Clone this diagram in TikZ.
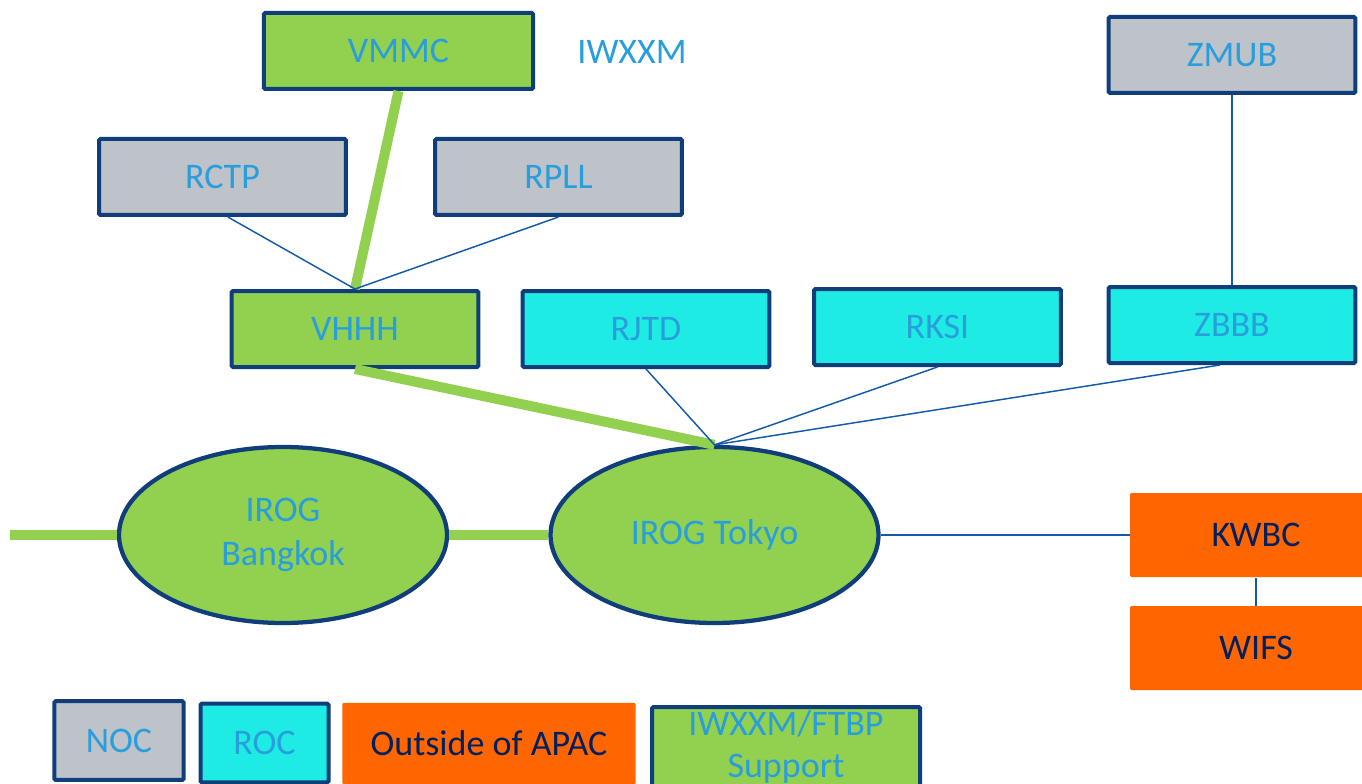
\documentclass[tikz,border=0pt]{standalone}
\usepackage{fontspec}
\setmainfont{Carlito}
\usetikzlibrary{shapes.geometric}

\definecolor{wxgreen}{RGB}{146,208,80}
\definecolor{wxedge}{RGB}{16,62,122}
\definecolor{wxlabel}{RGB}{41,158,220}
\definecolor{wxcyan}{RGB}{30,236,228}
\definecolor{wxgray}{RGB}{189,195,201}
\definecolor{wxorange}{RGB}{255,102,0}
\definecolor{wxdark}{RGB}{0,32,96}
\definecolor{wxline}{RGB}{20,90,170}

\tikzset{every picture/.style={line width=0.75pt}}
\tikzset{
    wxbox/.style={draw=wxedge, line width=3pt, rounded corners=1pt, minimum width=185pt, minimum height=57pt, inner sep=0pt, text=wxlabel, font=\fontsize{27}{32}\selectfont},
    greenbox/.style={wxbox, fill=wxgreen},
    cyanbox/.style={wxbox, fill=wxcyan},
    graybox/.style={wxbox, fill=wxgray},
    outbox/.style={fill=wxorange, rounded corners=1pt, minimum width=189pt, minimum height=63pt, inner sep=0pt, text=wxdark, font=\fontsize{27}{32}\selectfont},
    irog/.style={ellipse, draw=wxedge, line width=3.2pt, fill=wxgreen, minimum width=246pt, minimum height=132pt, inner sep=0pt, align=center, text=wxlabel, font=\fontsize{27}{32}\selectfont},
    thinlink/.style={draw=wxline, line width=1.1pt},
    greenlink/.style={draw=wxgreen, line width=7.5pt}
}

\begin{document}
\begin{tikzpicture}[x=0.75pt,y=0.75pt,yscale=-1,xscale=1]
        \path[use as bounding box] (0,0) rectangle (1362,784);

        %Shape: Rectangle
        \node [greenbox, minimum width=202pt] (vmmc) at (398.5,51) {VMMC};
        \node [graybox] (rctp) at (222.5,177) {RCTP};
        \node [graybox] (rpll) at (558.5,177) {RPLL};
        \node [graybox] (zmub) at (1232,55) {ZMUB};
        \node [greenbox] (vhhh) at (355,329) {VHHH};
        \node [cyanbox] (rjtd) at (646,329) {RJTD};
        \node [cyanbox] (rksi) at (937.5,327) {RKSI};
        \node [cyanbox] (zbbb) at (1232,325) {ZBBB};
        \node [outbox] (kwbc) at (1256,535) {KWBC};
        \node [outbox] (wifs) at (1256,648) {WIFS};

        %Shape: Ellipse
        \node [irog] (bangkok) at (283,535) {IROG\\[1pt]Bangkok};
        \node [irog] (tokyo) at (714.5,535) {\raisebox{-3pt}{IROG Tokyo}};

        % Text Node
        \node [text=wxlabel, font=\fontsize{27}{32}\selectfont] (iwxxm) at (632,52) {IWXXM};
        \coordinate (west) at (10,535);

        %Straight Lines
        \draw [greenlink] (vmmc.south) -- (vhhh.north);
        \draw [thinlink] ([xshift=4pt]rctp.south) -- (vhhh.north);
        \draw [thinlink] (rpll.south) -- (vhhh.north);
        \draw [thinlink] (zmub.south) -- (zbbb.north);
        \draw [greenlink] (vhhh.south) -- (tokyo.north);
        \draw [thinlink] (rjtd.south) -- (tokyo.north);
        \draw [thinlink] (rksi.south) -- (tokyo.north);
        \draw [thinlink] ([xshift=-9pt]zbbb.south) -- (tokyo.north);
        \draw [greenlink] (west) -- (bangkok.west);
        \draw [greenlink] (bangkok.east) -- (tokyo.west);
        \draw [thinlink] (tokyo.east) -- (kwbc.west);
        \draw [thinlink] (kwbc.south) -- (wifs.north);

        %Legend
        \node [graybox, minimum width=97pt, minimum height=59pt] (noc) at (119,740.5) {NOC};
        \node [cyanbox, minimum width=96pt, minimum height=59pt] (roc) at (264.5,743) {ROC};
        \node [outbox, minimum width=220pt, minimum height=61pt] (outside) at (489,743.5) {Outside of APAC};
        \node [greenbox, minimum width=201pt, minimum height=60pt, align=center] (ftbp) at (786,747) {IWXXM/FTBP\\[-1pt]Support};

\end{tikzpicture}
\end{document}
